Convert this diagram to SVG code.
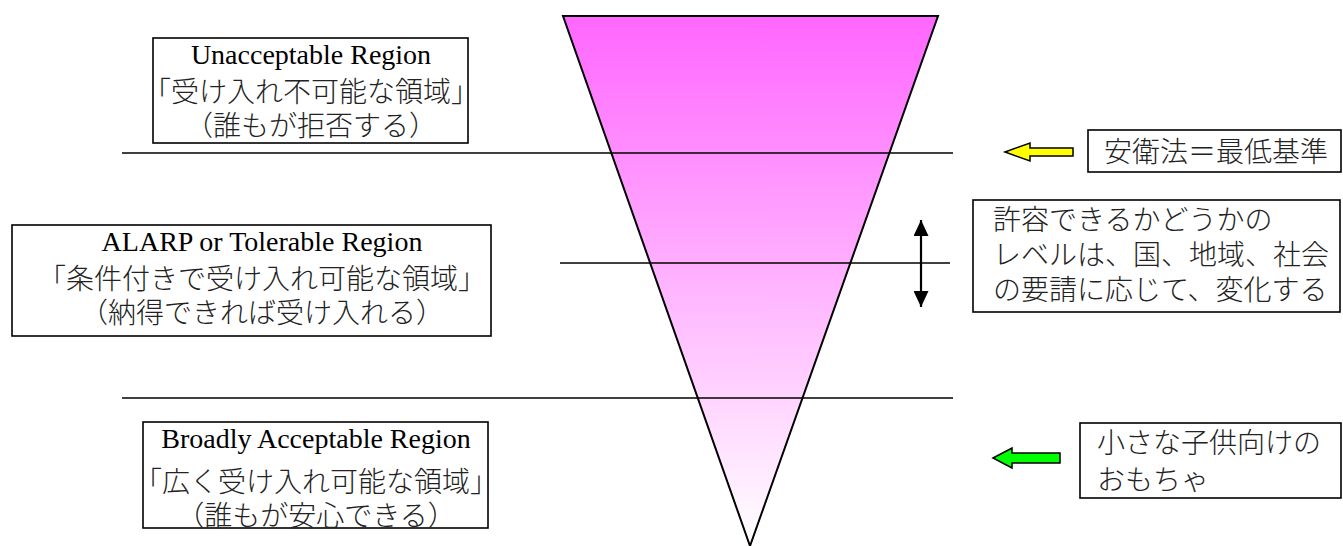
<svg xmlns="http://www.w3.org/2000/svg" width="1343" height="546" viewBox="0 0 1343 546">
<style>
.box{fill:#fff;stroke:#000;stroke-width:1.6}
.lat{font-family:"Liberation Serif","Noto Sans CJK JP",serif;font-size:28px;fill:#000}
.jp{font-family:"Liberation Serif","Noto Sans CJK JP",serif;font-size:28px;fill:#222;font-weight:300}
.c{text-anchor:middle}
.ln{stroke:#000;stroke-width:1.6;fill:none}
</style>
<defs>
<linearGradient id="tri" x1="0" y1="0" x2="0" y2="1">
<stop offset="0" stop-color="#FF66FF"/>
<stop offset="1" stop-color="#FFFFFF"/>
</linearGradient>
<marker id="ah" viewBox="0 0 10 10" refX="10" refY="5" markerWidth="16" markerHeight="15" orient="auto-start-reverse" markerUnits="userSpaceOnUse" preserveAspectRatio="none">
<path d="M0,0 L10,5 L0,10 Z" fill="#000"/>
</marker>
</defs>
<g id="triangle">
<polygon points="563,16 938,16 750,546" fill="url(#tri)" stroke="#000" stroke-width="2"/>
</g>
<g id="connectors">
<line class="ln" x1="122" y1="153" x2="953" y2="153"/>
<line class="ln" x1="560" y1="263" x2="950" y2="263"/>
<line class="ln" x1="122" y1="398" x2="953" y2="398"/>
<line x1="921" y1="220" x2="921" y2="307" stroke="#000" stroke-width="2.2" marker-start="url(#ah)" marker-end="url(#ah)"/>
<polygon points="1005,152 1030,143 1030,148 1073,148 1073,156 1030,156 1030,161" fill="#FFFF00" stroke="#000" stroke-width="1.5"/>
<polygon points="993,458 1012,448 1012,453 1060,453 1060,463 1012,463 1012,468" fill="#00FF00" stroke="#000" stroke-width="1.5"/>
</g>
<g id="unacceptable">
<rect class="box" x="153" y="38" width="315" height="105"/>
<text class="lat c" x="311" y="64">Unacceptable Region</text>
<text class="jp c" x="311" y="92" dominant-baseline="central">「受け入れ不可能な領域」</text>
<text class="jp c" x="311" y="126" dominant-baseline="central">（誰もが拒否する）</text>
</g>
<g id="alarp">
<rect class="box" x="12" y="225" width="479" height="111"/>
<text class="lat c" x="262" y="251">ALARP or Tolerable Region</text>
<text class="jp c" x="262" y="279" dominant-baseline="central">「条件付きで受け入れ可能な領域」</text>
<text class="jp c" x="262" y="313" dominant-baseline="central">（納得できれば受け入れる）</text>
</g>
<g id="broadly">
<rect class="box" x="143" y="422" width="345" height="106"/>
<text class="lat c" x="316" y="448">Broadly Acceptable Region</text>
<text class="jp c" x="316" y="482" dominant-baseline="central">「広く受け入れ可能な領域」</text>
<text class="jp c" x="316" y="516" dominant-baseline="central">（誰もが安心できる）</text>
</g>
<g id="law">
<rect class="box" x="1088" y="130" width="253" height="42"/>
<text class="jp" x="1104" y="152" dominant-baseline="central">安衛法＝最低基準</text>
</g>
<g id="tolerance">
<rect class="box" x="973" y="200" width="367" height="112"/>
<text class="jp" x="993" y="220" dominant-baseline="central">許容できるかどうかの</text>
<text class="jp" x="993" y="255" dominant-baseline="central">レベルは、国、地域、社会</text>
<text class="jp" x="993" y="290" dominant-baseline="central">の要請に応じて、変化する</text>
</g>
<g id="toys">
<rect class="box" x="1080" y="423" width="261" height="75"/>
<text class="jp" x="1097" y="443" dominant-baseline="central">小さな子供向けの</text>
<text class="jp" x="1097" y="480" dominant-baseline="central">おもちゃ</text>
</g>
</svg>
